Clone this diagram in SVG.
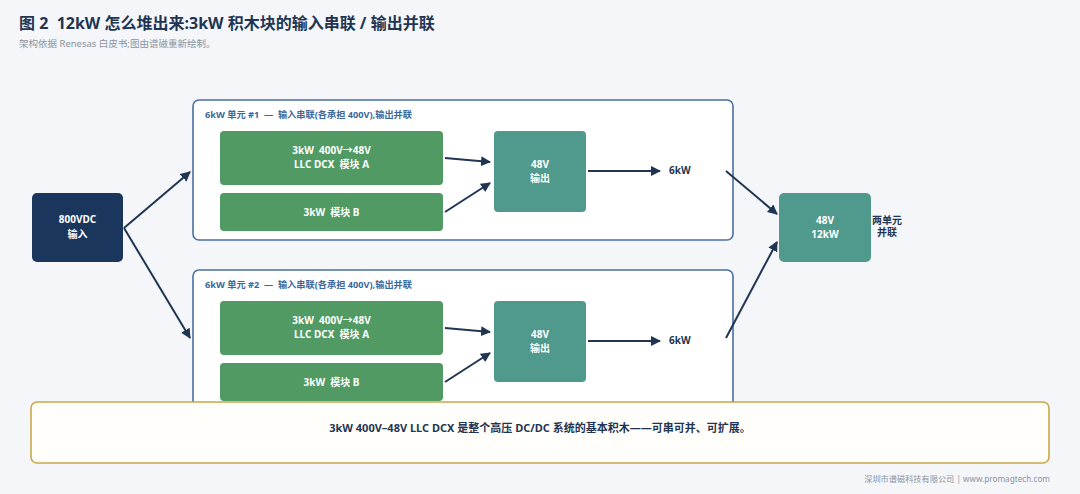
<svg xmlns="http://www.w3.org/2000/svg" width="1080" height="494" viewBox="0 0 1080 494">
<defs>
<marker id="ah" viewBox="0 0 10 10" refX="9" refY="5" markerWidth="5" markerHeight="5" markerUnits="strokeWidth" orient="auto">
<path d="M0,0 L10,5 L0,10 z" fill="#1f3552"/>
</marker>
<style>
text{font-family:"Noto Sans","Noto Sans CJK SC",sans-serif;white-space:pre;}
.title{font-size:16px;font-weight:700;fill:#1f3552;}
.sub{font-size:9.5px;fill:#8a949f;}
.wt{font-size:10px;font-weight:700;fill:#ffffff;text-anchor:middle;}
.unit{fill:#ffffff;stroke:#4a6fa0;stroke-width:1.6;}
.ulabel{font-size:9.2px;font-weight:700;fill:#3a679c;}
.mod{fill:#519a63;}
.out{fill:#4f9a8c;}
.dk{font-size:10px;font-weight:700;fill:#1f3552;}
.conn{stroke:#1f3552;stroke-width:2;fill:none;marker-end:url(#ah);}
</style>
</defs>
<rect x="0" y="0" width="1080" height="494" fill="#f4f6fa"/>
<text class="title" x="19" y="29" xml:space="preserve">图 2  12kW 怎么堆出来:3kW 积木块的输入串联 / 输出并联</text>
<text class="sub" x="19" y="47">架构依据 Renesas 白皮书;图由谱磁重新绘制。</text>

<g id="input">
<rect x="32" y="193" width="91" height="69" rx="5" fill="#1b365d"/>
<text class="wt" x="77.5" y="223">800VDC</text>
<text class="wt" x="77.5" y="238">输入</text>
</g>

<g id="unit1">
<rect class="unit" x="193" y="100" width="540" height="140" rx="6"/>
<text class="ulabel" x="205" y="118" xml:space="preserve">6kW 单元 #1  —  输入串联(各承担 400V),输出并联</text>
</g>
<g id="u1a">
<rect class="mod" x="220" y="131" width="223" height="54" rx="4"/>
<text class="wt" x="331.5" y="154" xml:space="preserve">3kW  400V→48V</text>
<text class="wt" x="331.5" y="168" xml:space="preserve">LLC DCX  模块 A</text>
</g>
<g id="u1b">
<rect class="mod" x="220" y="193" width="223" height="38" rx="4"/>
<text class="wt" x="331.5" y="216" xml:space="preserve">3kW  模块 B</text>
</g>
<g id="u1out">
<rect class="out" x="494" y="131" width="92" height="81" rx="4"/>
<text class="wt" x="540" y="168">48V</text>
<text class="wt" x="540" y="182">输出</text>
</g>
<g id="u1p">
<text class="dk" x="669" y="174">6kW</text>
</g>

<g id="unit2">
<rect class="unit" x="193" y="270" width="540" height="150" rx="6"/>
<text class="ulabel" x="205" y="288" xml:space="preserve">6kW 单元 #2  —  输入串联(各承担 400V),输出并联</text>
</g>
<g id="u2a">
<rect class="mod" x="220" y="301" width="223" height="54" rx="4"/>
<text class="wt" x="331.5" y="324" xml:space="preserve">3kW  400V→48V</text>
<text class="wt" x="331.5" y="338" xml:space="preserve">LLC DCX  模块 A</text>
</g>
<g id="u2b">
<rect class="mod" x="220" y="363" width="223" height="38" rx="4"/>
<text class="wt" x="331.5" y="386" xml:space="preserve">3kW  模块 B</text>
</g>
<g id="u2out">
<rect class="out" x="494" y="301" width="92" height="81" rx="4"/>
<text class="wt" x="540" y="338">48V</text>
<text class="wt" x="540" y="352">输出</text>
</g>
<g id="u2p">
<text class="dk" x="669" y="344">6kW</text>
</g>

<g id="sum">
<rect class="out" x="779" y="193" width="92" height="69" rx="5"/>
<text class="wt" x="825" y="224">48V</text>
<text class="wt" x="825" y="238">12kW</text>
<text class="dk" x="887" y="224" text-anchor="middle">两单元</text>
<text class="dk" x="887" y="236" text-anchor="middle">并联</text>
</g>

<g id="connectors">
<line class="conn" x1="124" y1="228" x2="190" y2="172"/>
<line class="conn" x1="124" y1="228" x2="190" y2="338"/>
<line class="conn" x1="445" y1="158" x2="490" y2="162"/>
<line class="conn" x1="445" y1="212" x2="490" y2="183"/>
<line class="conn" x1="588" y1="171" x2="660" y2="171"/>
<line class="conn" x1="445" y1="328" x2="490" y2="332"/>
<line class="conn" x1="445" y1="382" x2="490" y2="353"/>
<line class="conn" x1="588" y1="341" x2="660" y2="341"/>
<line class="conn" x1="726" y1="171" x2="777" y2="214"/>
<line class="conn" x1="726" y1="338" x2="777" y2="242"/>
</g>

<g id="callout">
<rect x="31" y="402" width="1018" height="61" rx="6" fill="#fffefa" stroke="#c9a84a" stroke-width="1.6"/>
<text x="540" y="432" text-anchor="middle" style="font-size:11px;font-weight:700;fill:#1f3552;">3kW 400V–48V LLC DCX 是整个高压 DC/DC 系统的基本积木——可串可并、可扩展。</text>
</g>
<text x="1050" y="482" text-anchor="end" style="font-size:8.2px;fill:#8a949f;">深圳市谱磁科技有限公司 | www.promagtech.com</text>
</svg>
